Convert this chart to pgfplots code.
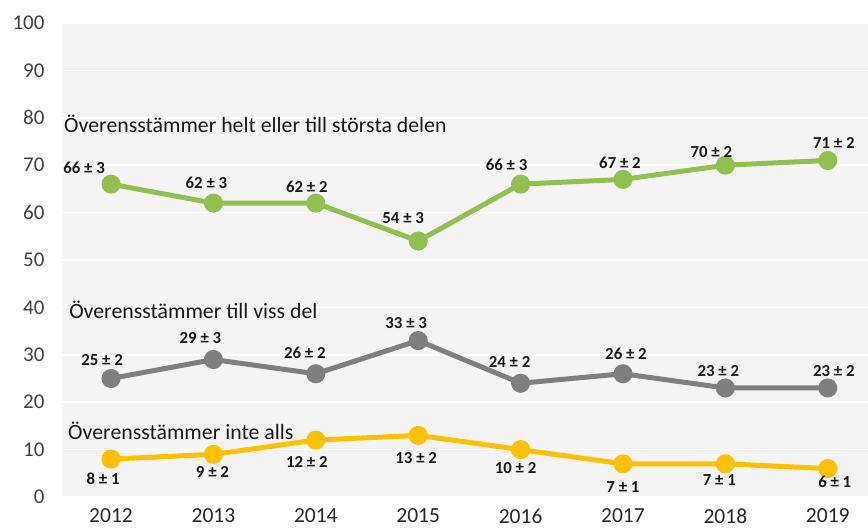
\documentclass[border=0pt]{standalone}
\usepackage{pgfplots}
\pgfplotsset{compat=1.18}
\usepackage{pgfplotstable}
\usepackage{fontspec}
\setmainfont{Carlito}
\definecolor{cgreen}{HTML}{92C050}
\definecolor{cgray}{HTML}{7F7F7F}
\definecolor{cyellow}{HTML}{FFC000}
\definecolor{bgc}{HTML}{F4F4F4}
\definecolor{tickc}{HTML}{404040}

\pgfplotstableread[col sep=comma]{
x,y,lab,dx,dy
0,66,66 ± 3,-27,16
1,62,62 ± 3,-7,20
2,62,62 ± 2,-9,16
3,54,54 ± 3,-15,23
4,66,66 ± 3,-14,19
5,67,67 ± 2,-3,17
6,70,70 ± 2,-14,13
7,71,71 ± 2,6,17
}\greentab

\pgfplotstableread[col sep=comma]{
x,y,lab,dx,dy
0,25,25 ± 2,-9,18
1,29,29 ± 3,-13,21
2,26,26 ± 2,-11,21
3,33,33 ± 3,-12,18
4,24,24 ± 2,-11,21
5,26,26 ± 2,3,20
6,23,23 ± 2,-7,17
7,23,23 ± 2,6,17
}\graytab

\pgfplotstableread[col sep=comma]{
x,y,lab,dx,dy
0,8,8 ± 1,-8,-20
1,9,9 ± 2,-1,-18
2,12,12 ± 2,-9,-22
3,13,13 ± 2,-2,-23
4,10,10 ± 2,-5,-18
5,7,7 ± 1,0,-23
6,7,7 ± 1,-6,-16
7,6,6 ± 1,7,-13
}\yellowtab

\begin{document}
\begin{tikzpicture}
\begin{axis}[
  name=a,
  scale only axis,
  width=806pt, height=474pt,
  xmin=-0.479, xmax=7.393,
  ymin=0, ymax=100,
  ytick={0,10,...,100},
  xtick={0,...,7},
  xticklabels={2012,2013,2014,2015,2016,2017,2018,2019},
  axis line style={draw=none},
  major tick length=0pt,
  tick style={draw=none},
  axis background/.style={fill=bgc},
  ymajorgrids,
  major grid style={white, line width=1.6pt},
  xmajorgrids=false,
  yticklabel style={font=\fontsize{21}{24}\selectfont, text=tickc, anchor=east, xshift=-14pt},
  xticklabel style={font=\fontsize{21.5}{24}\selectfont, text=black!85, anchor=north, yshift=-8pt},
  /pgf/number format/assume math mode=true,
  clip=false,
  point meta=explicit symbolic,
  nodes near coords,
  visualization depends on={\thisrow{dx}\as\dx},
  visualization depends on={\thisrow{dy}\as\dy},
  every node near coord/.append style={anchor=center, xshift=\dx pt, yshift=\dy pt,
     font=\fontsize{16.8}{19}\selectfont\bfseries, text=black!90, inner sep=0pt},
]
\addplot[color=cgreen, line width=5pt, mark=*, mark size=7pt, mark options={fill=cgreen, draw=none}]
  table[x=x, y=y, meta=lab] {\greentab};
\addplot[color=cgray, line width=5pt, mark=*, mark size=7pt, mark options={fill=cgray, draw=none}]
  table[x=x, y=y, meta=lab] {\graytab};
\addplot[color=cyellow, line width=5pt, mark=*, mark size=7pt, mark options={fill=cyellow, draw=none}]
  table[x=x, y=y, meta=lab] {\yellowtab};

\node[anchor=west, inner sep=0pt, font=\fontsize{21.8}{24}\selectfont, text=black!90] at (axis cs:-0.459,78.8) {Överensstämmer helt eller till största delen};
\node[anchor=west, inner sep=0pt, font=\fontsize{21.8}{24}\selectfont, text=black!90] at (axis cs:-0.41,39.5) {Överensstämmer till viss del};
\node[anchor=west, inner sep=0pt, font=\fontsize{21.8}{24}\selectfont, text=black!90] at (axis cs:-0.42,14.0) {Överensstämmer inte alls};
\end{axis}
\pgfresetboundingbox
\path ([xshift=-62pt,yshift=-35pt]a.south west) rectangle ([yshift=23pt]a.north east);
\end{tikzpicture}
\end{document}
